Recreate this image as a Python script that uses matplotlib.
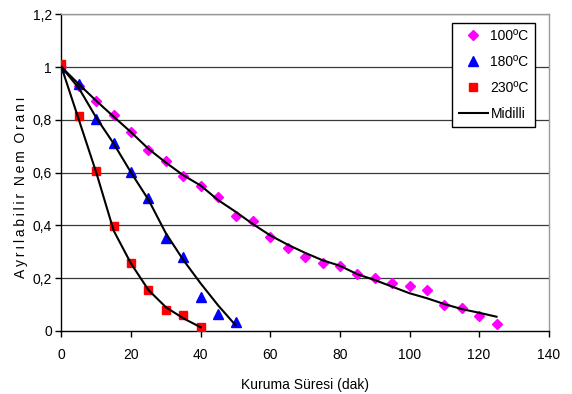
import matplotlib
matplotlib.use("Agg")
import matplotlib.pyplot as plt
from matplotlib.lines import Line2D

# Measured drying data (time in minutes, moisture ratio)
t_100 = [0, 5, 10, 15, 20, 25, 30, 35, 40, 45, 50, 55, 60, 65, 70, 75, 80,
         85, 90, 95, 100, 105, 110, 115, 120, 125]
mr_100 = [1.0, 0.929, 0.870, 0.817, 0.754, 0.686, 0.643, 0.586, 0.549, 0.507,
          0.435, 0.416, 0.356, 0.316, 0.281, 0.258, 0.247, 0.214, 0.200, 0.181,
          0.171, 0.157, 0.099, 0.086, 0.057, 0.028]

t_180 = [0, 5, 10, 15, 20, 25, 30, 35, 40, 45, 50]
mr_180 = [1.0, 0.935, 0.805, 0.711, 0.602, 0.503, 0.354, 0.280, 0.128, 0.066, 0.035]

t_230 = [0, 5, 10, 15, 20, 25, 30, 35, 40]
mr_230 = [1.013, 0.815, 0.607, 0.396, 0.258, 0.157, 0.081, 0.061, 0.016]

# Midilli model predictions at the same times
fit_100 = [1.0, 0.935, 0.872, 0.812, 0.753, 0.690, 0.638, 0.590, 0.551, 0.496,
           0.452, 0.405, 0.362, 0.327, 0.296, 0.268, 0.247, 0.215, 0.193, 0.168,
           0.143, 0.124, 0.102, 0.083, 0.069, 0.054]
fit_180 = [1.0, 0.920, 0.808, 0.710, 0.600, 0.497, 0.370, 0.269, 0.180, 0.097, 0.022]
fit_230 = [1.0, 0.800, 0.600, 0.380, 0.255, 0.155, 0.090, 0.048, 0.014]

series_labels = ["100ºC", "180ºC", "230ºC", "Midilli"]
x_ticks = [0, 20, 40, 60, 80, 100, 120, 140]
y_ticks = [0, 0.2, 0.4, 0.6, 0.8, 1.0, 1.2]
y_tick_labels = ["0", "0,2", "0,4", "0,6", "0,8", "1", "1,2"]

plt.rcParams["font.family"] = ["Liberation Sans", "DejaVu Sans"]

fig = plt.figure(figsize=(5.72, 3.94), dpi=100)
ax = fig.add_axes([0.1075, 0.16, 0.9593 - 0.1075, 0.9637 - 0.16])

for y in y_ticks[1:]:
    ax.axhline(y, color="#3a3a3a", lw=0.9, zorder=1)

ax.plot(t_100, mr_100, ls="none", marker="D", ms=4.7, color="#FF00FF",
        mec="#FF00FF", zorder=3)
ax.plot(t_180, mr_180, ls="none", marker="^", ms=6.6, color="#0000FF",
        mec="#0000FF", zorder=3)
ax.plot(t_230, mr_230, ls="none", marker="s", ms=5.6, color="#FF0000",
        mec="#FF0000", zorder=3)

for tt, ff in ((t_100, fit_100), (t_180, fit_180), (t_230, fit_230)):
    ax.plot(tt, ff, color="black", lw=1.5, zorder=4, solid_joinstyle="round")

ax.set_xlim(0, 140)
ax.set_ylim(0, 1.2)
ax.set_xticks(x_ticks)
ax.set_xticklabels([str(v) for v in x_ticks])
ax.set_yticks(y_ticks)
ax.set_yticklabels(y_tick_labels)
ax.tick_params(axis="both", direction="out", length=4, width=1, labelsize=10,
               colors="black", pad=3)
ax.tick_params(axis="x", pad=8)

for side in ("top", "right"):
    ax.spines[side].set_color("#9a9a9a")
    ax.spines[side].set_linewidth(1)
for side in ("left", "bottom"):
    ax.spines[side].set_color("black")
    ax.spines[side].set_linewidth(1)

ax.set_xlabel("Kuruma Süresi (dak)", fontsize=10, labelpad=12)
ylab = "\u2009".join("Ayrılabilir") + "  " + "\u2009".join("Nem") + "  " + "\u2009".join("Oranı")
ax.set_ylabel(ylab, fontsize=10)
ax.yaxis.set_label_coords(-0.068, 0.455)

handles = [
    Line2D([], [], ls="none", marker="D", ms=4.7, color="#FF00FF"),
    Line2D([], [], ls="none", marker="^", ms=6.6, color="#0000FF"),
    Line2D([], [], ls="none", marker="s", ms=5.6, color="#FF0000"),
    Line2D([], [], color="black", lw=1.5),
]
leg = ax.legend(handles, series_labels, loc="upper right",
                bbox_to_anchor=(0.972, 0.9725), frameon=True, fancybox=False,
                edgecolor="black", framealpha=1, fontsize=10,
                handlelength=2.1, handletextpad=0.2, labelspacing=0.85,
                borderpad=0.45, borderaxespad=0.0)
leg.get_frame().set_linewidth(1)

fig.savefig("out.png", dpi=100, facecolor="white")
